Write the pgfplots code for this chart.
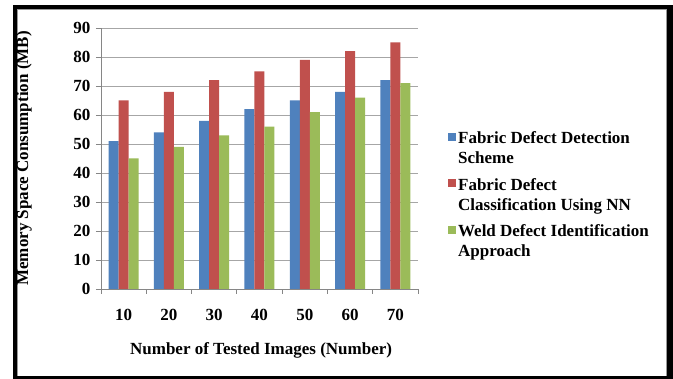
\documentclass[border=0pt]{standalone}
\usepackage{fontspec}
\setmainfont{Liberation Serif}
\usepackage{pgfplots}
\pgfplotsset{compat=1.18}
\definecolor{sblue}{HTML}{4F81BD}
\definecolor{sred}{HTML}{C0504D}
\definecolor{sgreen}{HTML}{9BBB59}
\definecolor{gridgray}{HTML}{A6A6A6}
\definecolor{axgray}{HTML}{868686}
\begin{document}
\begin{tikzpicture}[x=1pt,y=1pt]
\useasboundingbox (0,0) rectangle (673,379);
\fill[black] (12.7,-10) rectangle (690,374);
\fill[white] (16.7,3) rectangle (667,370);
\draw[gray!80, line width=0.8pt] (17.1,3) -- (17.1,369.6) -- (666.6,369.6) -- (666.6,3);
\begin{axis}[
  at={(101pt,90pt)}, anchor=south west,
  scale only axis, width=317pt, height=261pt,
  ymin=0, ymax=90, ytick={0,10,...,90},
  xmin=-0.5, xmax=6.5,
  xtick={0,...,6}, xticklabels={10,20,30,40,50,60,70},
  minor xtick={-0.5,0.5,...,6.5},
  axis x line*=bottom, axis y line*=left,
  axis line style={axgray, line width=0.8pt, -},
  ymajorgrids, grid style={gridgray, line width=0.8pt},
  tick align=outside,
  major tick length=5pt, minor tick length=5pt,
  major x tick style={draw=none},
  minor x tick style={axgray, line width=0.8pt},
  major y tick style={axgray, line width=0.8pt},
  /pgf/number format/assume math mode=true,
  ticklabel style={font=\fontsize{17}{19}\selectfont\bfseries},
  xticklabel style={yshift=-12pt},
  yticklabel style={xshift=-2pt},
  xlabel={Number of Tested Images (Number)},
  ylabel={Memory Space Consumption (MB)},
  label style={font=\fontsize{17}{19}\selectfont\bfseries},
  xlabel style={at={(axis description cs:0.505,-0.237)}, anchor=center},
  ylabel style={at={(axis description cs:-0.243,0.5)}, anchor=center},
  ybar=0pt, bar width=10pt,
  legend style={at={(1.085,0.36)}, anchor=west, draw=none, fill=none,
    font=\fontsize{17}{20}\selectfont\bfseries, row sep=9pt,
    cells={align=left, anchor=west}},
  legend image code/.code={\fill[#1] (0pt,8pt) rectangle (8pt,16pt);},
]
\addplot[fill=sblue, draw=none] coordinates {(0,51) (1,54) (2,58) (3,62) (4,65) (5,68) (6,72)};
\addplot[fill=sred, draw=none] coordinates {(0,65) (1,68) (2,72) (3,75) (4,79) (5,82) (6,85)};
\addplot[fill=sgreen, draw=none] coordinates {(0,45) (1,49) (2,53) (3,56) (4,61) (5,66) (6,71)};
\legend{{Fabric Defect Detection\\Scheme},{Fabric Defect\\Classification Using NN},{Weld Defect Identification\\Approach}}
\end{axis}
\end{tikzpicture}
\end{document}
